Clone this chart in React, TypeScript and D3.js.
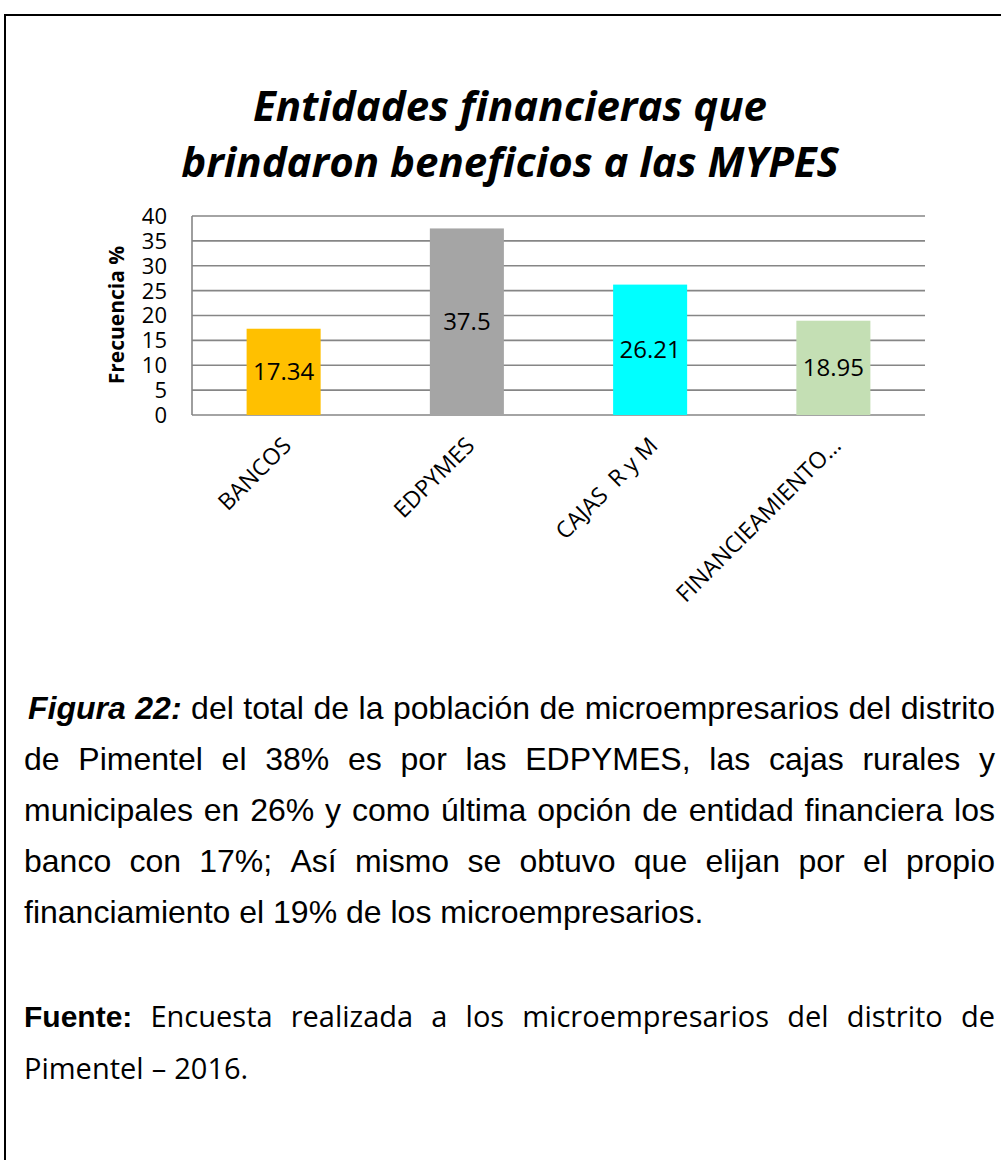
import React, { useRef, useEffect } from 'react';
import * as d3 from 'd3';

const categories = ['BANCOS', 'EDPYMES', 'CAJAS  R y M', 'FINANCIEAMIENTO…'];
const values = [17.34, 37.5, 26.21, 18.95];
const barColors = ['#FFC000', '#A5A5A5', '#00FFFF', '#C4DFB4'];
const yTicks = [0, 5, 10, 15, 20, 25, 30, 35, 40];

const titleLines = ['Entidades financieras que', 'brindaron beneficios a las MYPES'];
const yAxisTitle = 'Frecuencia %';

const captionLead = 'Figura 22:';
const captionLines = [
    'del total de la población de microempresarios del distrito',
    'de Pimentel el 38% es por las EDPYMES, las cajas rurales y',
    'municipales en 26% y como última opción de entidad financiera los',
    'banco con 17%; Así mismo se obtuvo que elijan por el propio',
    'financiamiento el 19% de los microempresarios.',
];
const sourceLead = 'Fuente:';
const sourceLines = [
    'Encuesta realizada a los microempresarios del distrito de',
    'Pimentel – 2016.',
];

const W = 1001;
const H = 1160;
const calibri = "'Open Sans', sans-serif";
const arial = "'Liberation Sans', Arial, sans-serif";

interface Run {
    text: string;
    family: string;
    size: number;
    weight?: string;
    style?: string;
}

// lays out words of one line, optionally justified between left and right
function layoutLine(g: any, y: number, left: number, right: number, runs: Run[], justify: boolean) {
    const words: Run[] = [];
    runs.forEach(r => r.text.split(' ').filter(Boolean).forEach(w => words.push({ ...r, text: w })));
    const nodes = words.map(w => g.append('text')
        .attr('y', y)
        .attr('font-family', w.family)
        .attr('font-size', w.size)
        .attr('font-weight', w.weight || 'normal')
        .attr('font-style', w.style || 'normal')
        .attr('fill', '#000')
        .text(w.text));
    const widths = nodes.map(n => (n.node() as SVGTextElement).getComputedTextLength());
    const total = d3.sum(widths);
    const gap = justify && words.length > 1
        ? (right - left - total) / (words.length - 1)
        : words[words.length - 1].size * 0.278;
    let x = left;
    nodes.forEach((n, i) => {
        n.attr('x', x);
        x += widths[i] + gap;
    });
}

const App: React.FC = () => {
    const ref = useRef<SVGSVGElement>(null);

    useEffect(() => {
        if (!ref.current) return;
        const svg = d3.select(ref.current);
        svg.selectAll('*').remove();

        svg.append('rect').attr('width', W).attr('height', H).attr('fill', '#fff');
        // page frame
        svg.append('rect')
            .attr('x', 5).attr('y', 15)
            .attr('width', 1100).attr('height', 1300)
            .attr('fill', 'none').attr('stroke', '#000').attr('stroke-width', 2);

        // title
        svg.append('g').selectAll('text')
            .data(titleLines)
            .enter()
            .append('text')
            .attr('x', 510)
            .attr('y', (d, i) => 121 + i * 56)
            .attr('text-anchor', 'middle')
            .attr('font-family', calibri)
            .attr('font-size', 42)
            .attr('font-weight', 'bold')
            .attr('font-style', 'italic')
            .text(d => d);

        const plot = { left: 192, right: 925, top: 216, bottom: 415 };

        const xScale = d3.scaleBand()
            .domain(categories)
            .range([plot.left, plot.right])
            .padding(0);
        const barW = xScale.bandwidth() * 0.404;

        const yScale = d3.scaleLinear()
            .domain([0, 40])
            .range([plot.bottom, plot.top]);

        // gridlines
        svg.append('g').selectAll('line')
            .data(yTicks)
            .enter()
            .append('line')
            .attr('x1', plot.left).attr('x2', plot.right)
            .attr('y1', d => yScale(d)).attr('y2', d => yScale(d))
            .attr('stroke', '#868686')
            .attr('stroke-width', 1.6);

        // left axis line
        svg.append('line')
            .attr('x1', plot.left).attr('x2', plot.left)
            .attr('y1', plot.top).attr('y2', plot.bottom)
            .attr('stroke', '#868686').attr('stroke-width', 1.6);

        // bars
        svg.append('g').selectAll('rect')
            .data(values)
            .enter()
            .append('rect')
            .attr('x', (d, i) => xScale(categories[i])! + (xScale.bandwidth() - barW) / 2)
            .attr('y', d => yScale(d))
            .attr('width', barW)
            .attr('height', d => plot.bottom - yScale(d))
            .attr('fill', (d, i) => barColors[i]);

        // value labels in the middle of each bar
        svg.append('g').selectAll('text')
            .data(values)
            .enter()
            .append('text')
            .attr('x', (d, i) => xScale(categories[i])! + xScale.bandwidth() / 2)
            .attr('y', d => yScale(d / 2))
            .attr('dy', '0.35em')
            .attr('text-anchor', 'middle')
            .attr('font-family', calibri)
            .attr('font-size', 24)
            .attr('fill', '#000')
            .text(d => String(d));

        // y tick labels
        svg.append('g').selectAll('text')
            .data(yTicks)
            .enter()
            .append('text')
            .attr('x', 167)
            .attr('y', d => yScale(d))
            .attr('dy', '0.36em')
            .attr('text-anchor', 'end')
            .attr('font-family', calibri)
            .attr('font-size', 22)
            .text(d => String(d));

        // y axis title
        svg.append('text')
            .attr('transform', 'translate(124,315) rotate(-90)')
            .attr('text-anchor', 'middle')
            .attr('font-family', calibri)
            .attr('font-size', 21)
            .attr('font-weight', 'bold')
            .text(yAxisTitle);

        // category labels, rotated
        svg.append('g').selectAll('text')
            .data(categories)
            .enter()
            .append('text')
            .attr('transform', d => `translate(${xScale(d)! + xScale.bandwidth() / 2 + 9},447) rotate(-45)`)
            .attr('text-anchor', 'end')
            .attr('font-family', calibri)
            .attr('font-size', 23)
            .style('white-space', 'pre')
            .text(d => d);

        // caption paragraph
        const para = svg.append('g');
        const lineH = 51;
        const size = 32;
        captionLines.forEach((line, i) => {
            const runs: Run[] = [];
            if (i === 0) {
                runs.push({ text: captionLead, family: arial, size, weight: 'bold', style: 'italic' });
            }
            runs.push({ text: line, family: arial, size });
            layoutLine(para, 719 + i * lineH, i === 0 ? 28 : 24, 995, runs, i < captionLines.length - 1);
        });

        sourceLines.forEach((line, i) => {
            const runs: Run[] = [];
            if (i === 0) {
                runs.push({ text: sourceLead, family: arial, size: 30, weight: 'bold' });
            }
            runs.push({ text: line, family: calibri, size: 29 });
            layoutLine(para, 1027 + i * 52, 24, 995, runs, i < sourceLines.length - 1);
        });
    }, []);

    return (
        <svg ref={ref} width={W} height={H} style={{ position: 'absolute', left: 0, top: 0 }}></svg>
    );
};

export default App;
